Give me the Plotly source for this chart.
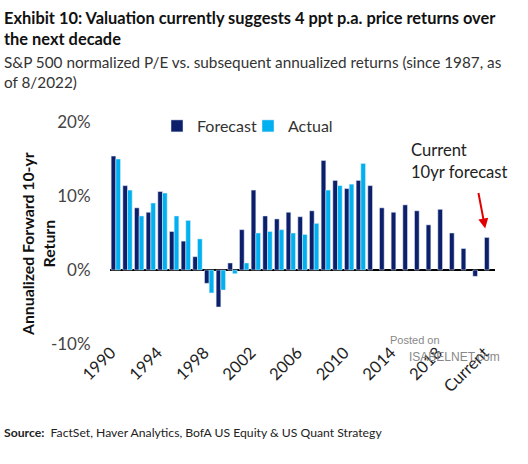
import plotly.graph_objects as go

categories = [str(y) for y in range(1990, 2022)] + ["Current"]
forecast = [15.4, 11.4, 8.4, 7.8, 10.6, 5.2, 3.9, 1.8, -1.8, -5.0, 0.95,
            5.45, 10.8, 7.3, 6.9, 7.8, 7.2, 8.0, 14.8, 12.1, 11.0, 12.1,
            11.4, 8.4, 7.8, 8.8, 8.0, 6.1, 8.2, 5.0, 2.9, -0.85, 4.4]
actual = [15.0, 10.8, 7.3, 9.05, 10.4, 7.3, 6.7, 4.2, -3.1, -2.7, -0.5,
          0.95, 5.0, 5.2, 5.45, 5.0, 4.8, 6.3, 10.8, 11.4, 11.6, 14.4]
actual_full = actual + [None] * (len(categories) - len(actual))
tick_labels = ["1990", "1994", "1998", "2002", "2006", "2010", "2014", "2018", "Current"]
y_ticks = [-10, 0, 10, 20]

FONT = "Lato, Roboto, Liberation Sans, sans-serif"
NAVY = "#0b1f6b"
CYAN = "#00b0f0"

PW, PH = 385.0, 222.0  # plot area size in px
L, T = 110.0, 122.0


def px(xpix):
    return (xpix - L) / PW


def py(ypix):
    return 1 - (ypix - T) / PH


fig = go.Figure()
fig.add_trace(go.Bar(x=categories, y=forecast, name="Forecast", marker_color=NAVY, legend="legend"))
fig.add_trace(go.Bar(x=categories, y=actual_full, name="Actual", marker_color=CYAN, legend="legend2"))

legend_common = dict(orientation="h", xanchor="left", yanchor="top",
                     font=dict(size=16, color="#333333", family=FONT), bgcolor="rgba(0,0,0,0)",
                     itemwidth=30)
fig.update_layout(
    width=528, height=464,
    margin=dict(l=110, r=33, t=122, b=120),
    paper_bgcolor="white", plot_bgcolor="white",
    barmode="group", bargap=0.2, bargroupgap=0,
    font=dict(family=FONT, size=17, color="#333333"),
    legend=dict(x=px(157), y=py(109), **legend_common),
    legend2=dict(x=px(248), y=py(109), **legend_common),
    showlegend=True,
)
fig.update_xaxes(
    type="category", tickmode="array", tickvals=tick_labels, ticktext=tick_labels,
    tickangle=-45, showgrid=False, showline=False, ticks="", ticklabelstandoff=-5,
    ticklabelshift=-5,
    tickfont=dict(size=16.5, color="#222222", family=FONT), range=[-0.5, len(categories) - 0.5],
)
fig.update_yaxes(
    range=[-10, 20], tickvals=y_ticks, ticktext=[f"{v}%" for v in y_ticks],
    showgrid=False, zeroline=True, zerolinecolor="black", zerolinewidth=1.6,
    showline=False, ticks="outside", ticklen=15, tickcolor="rgba(0,0,0,0)",
    tickfont=dict(size=17, color="#444444", family=FONT),
)

# Title and subtitle
fig.add_annotation(xref="paper", yref="paper", x=px(2), y=py(6), xanchor="left", yanchor="top",
                   align="left", showarrow=False,
                   text="<b>Exhibit 10: Valuation currently suggests 4 ppt p.a. price returns over<br>the next decade</b>",
                   font=dict(size=16.4, color="#111111", family=FONT))
fig.add_annotation(xref="paper", yref="paper", x=px(2), y=py(51), xanchor="left", yanchor="top",
                   align="left", showarrow=False,
                   text="S&P 500 normalized P/E vs. subsequent annualized returns (since 1987, as<br>of 8/2022)",
                   font=dict(size=15.3, color="#333333", family=FONT))
# Y axis title
fig.add_annotation(xref="paper", yref="paper", x=px(38), y=py(244), xanchor="center", yanchor="middle",
                   textangle=-90, showarrow=False, align="center",
                   text="<b>Annualized Forward 10-yr<br>Return</b>",
                   font=dict(size=15.8, color="#111111", family=FONT))
# Current forecast note
fig.add_annotation(xref="paper", yref="paper", x=px(409), y=py(138), xanchor="left", yanchor="top",
                   align="left", showarrow=False, text="Current<br>10yr forecast",
                   font=dict(size=16.6, color="#222222", family=FONT))
fig.add_annotation(x="Current", y=forecast[-1], xref="x", yref="y", xshift=-4, yshift=9,
                   showarrow=True, arrowhead=2, arrowsize=1, arrowwidth=2, arrowcolor="#e00000",
                   ax=-7, ay=-37, text="")
# Source
fig.add_annotation(xref="paper", yref="paper", x=px(2), y=py(432), xanchor="left", yanchor="middle",
                   showarrow=False, align="left",
                   text="<b>Source:</b>  FactSet, Haver Analytics, BofA US Equity & US Quant Strategy",
                   font=dict(size=12.2, color="#222222", family=FONT))
# Watermark
fig.add_annotation(xref="paper", yref="paper", x=px(388), y=py(340), xanchor="left", yanchor="middle",
                   showarrow=False, text="Posted on",
                   font=dict(size=11, color="#888888", family="Liberation Sans, Arial, sans-serif"))
fig.add_annotation(xref="paper", yref="paper", x=px(407), y=py(357), xanchor="left", yanchor="middle",
                   showarrow=False, text="ISABELNET.com",
                   font=dict(size=12, color="#888888", family="Liberation Sans, Arial, sans-serif"))

fig.write_html("out.html", config={"displayModeBar": False},
               post_script="document.body.style.margin='0px';")
